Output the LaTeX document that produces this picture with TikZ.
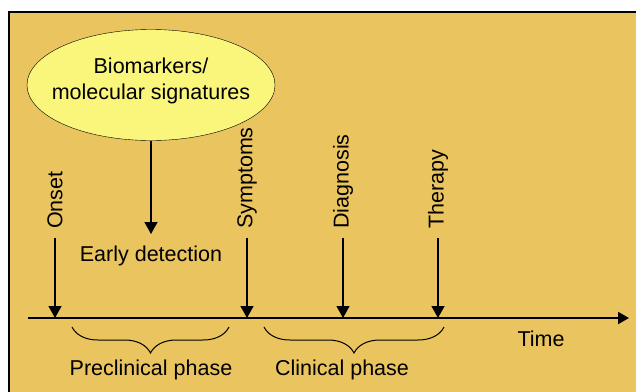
\documentclass[tikz,border=0pt]{standalone}
\usepackage{fontspec}
\setmainfont{Liberation Sans}
\usetikzlibrary{shapes.geometric,arrows.meta,decorations.pathreplacing}
\definecolor{panelbg}{RGB}{233,196,95}
\definecolor{markerfill}{RGB}{250,246,124}

\begin{document}
\begin{tikzpicture}[x=1pt, y=-1pt,
    every node/.style={font=\fontsize{21.5}{26}\selectfont},
    evarrow/.style={line width=1.3pt, -{Triangle[length=12pt,width=13pt]}},
    evlabel/.style={rotate=90, anchor=west, inner xsep=9pt},
    timeline/.style={line width=2pt, -{Triangle[length=11pt,width=12pt]}},
    phasebrace/.style={decorate, decoration={brace, mirror, amplitude=26pt}, line width=1pt}]
            \clip (0,0) rectangle (636,391);
            \draw[fill=panelbg, line width=1.2pt] (9,12) rectangle (660,420);

            \coordinate (tl-start) at (28,318);
            \coordinate (tl-end) at (629,318);

            \node[draw, ellipse, fill=markerfill, minimum height=111pt, inner xsep=-11.5pt, inner ysep=0pt, text depth=13pt, align=center] (bio) at (151,85) {Biomarkers/\\molecular signatures};
            \node[anchor=north, inner ysep=12pt] (early) at (151,234) {Early detection};

            \node[evlabel] (onset) at (55,238) {Onset};
            \node[evlabel] (symptoms) at (247,238) {Symptoms};
            \node[evlabel] (diagnosis) at (343,238) {Diagnosis};
            \node[evlabel] (therapy) at (438,238) {Therapy};
            \node (time) at (541,339) {Time};

            \node (preclin) at (151,370) {Preclinical phase};
            \node (clin) at (342,370) {Clinical phase};

            \draw[timeline] (tl-start) -- (tl-end);
            \draw[evarrow] (bio.south) -- (early.north);
            \draw[evarrow] (onset.west) -- (onset.west |- tl-start);
            \draw[evarrow] (symptoms.west) -- (symptoms.west |- tl-start);
            \draw[evarrow] (diagnosis.west) -- (diagnosis.west |- tl-start);
            \draw[evarrow] (therapy.west) -- (therapy.west |- tl-start);

            \draw[phasebrace] (72,327) -- (229,327);
            \draw[phasebrace] (264,327) -- (444,327);
        \end{tikzpicture}
\end{document}
